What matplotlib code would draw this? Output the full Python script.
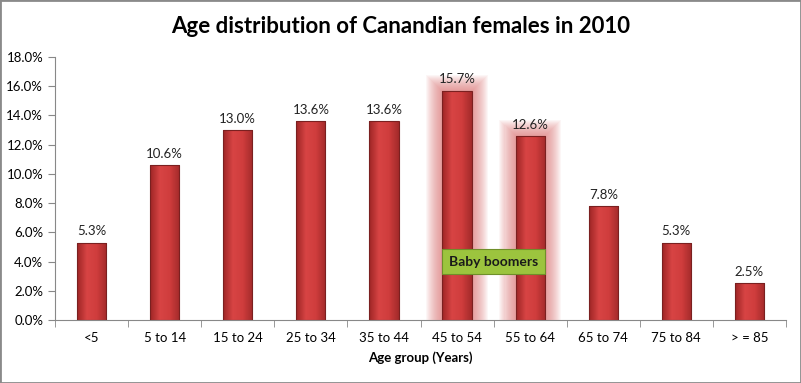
import numpy as np
import matplotlib.pyplot as plt
from matplotlib.patches import Rectangle
from matplotlib.ticker import FuncFormatter, MultipleLocator
from matplotlib.colors import LinearSegmentedColormap

plt.rcParams['font.family'] = ['Lato', 'DejaVu Sans']

groups = ["<5", "5 to 14", "15 to 24", "25 to 34", "35 to 44",
          "45 to 54", "55 to 64", "65 to 74", "75 to 84", "> = 85"]
shares = [5.3, 10.6, 13.0, 13.6, 13.6, 15.7, 12.6, 7.8, 5.3, 2.5]
boomers = ["45 to 54", "55 to 64"]

fig = plt.figure(figsize=(8.01, 3.83), dpi=100)
ax = fig.add_axes([0.0687, 0.1645, 0.9126, 0.6867])

x = np.arange(len(groups))
w = 0.4

red = LinearSegmentedColormap.from_list("bar", ["#9e2626", "#d84444", "#cf3d3d", "#a32a2a"])
grad = np.linspace(0, 1, 64).reshape(1, -1)

# soft glow behind the boomer bars
for i, g in enumerate(groups):
    if g in boomers:
        n = 16
        for k in range(n):
            pad = 0.22 * (1 - k / n)
            ax.add_patch(Rectangle((x[i] - w / 2 - pad, 0), w + 2 * pad,
                                   shares[i] + pad * 5,
                                   facecolor="#dc6a6a", edgecolor="none",
                                   alpha=0.06, zorder=1))

bars = ax.bar(x, shares, width=w, color="none", edgecolor="#7a2020",
              linewidth=0.8, zorder=3)
for b in bars:
    x0, y0 = b.get_x(), b.get_y()
    im = ax.imshow(grad, cmap=red, aspect="auto", zorder=2,
                   extent=(x0, x0 + b.get_width(), y0, y0 + b.get_height()))
    im.set_clip_path(b)

for xi, v in zip(x, shares):
    ax.text(xi, v + 0.35, f"{v:.1f}%", ha="center", va="bottom",
            fontsize=9.5, color="#222222", zorder=4)

# label for the baby boomer generation
mid = (groups.index(boomers[0]) + groups.index(boomers[1])) / 2
ax.text(mid, 4.0, "Baby boomers", ha="center", va="center", fontsize=10,
        fontweight="bold", color="#1a1a1a", zorder=5,
        bbox=dict(boxstyle="square,pad=0.5", facecolor="#9cc43e",
                  edgecolor="#6f8f2a", linewidth=0.8))

ax.set_xlim(-0.5, len(groups) - 0.5)
ax.set_ylim(0, 18)
ax.yaxis.set_major_locator(MultipleLocator(2))
ax.yaxis.set_major_formatter(FuncFormatter(lambda v, p: f"{v:.1f}%"))
ax.set_xticks(x)
ax.set_xticklabels(groups)
ax.set_xticks(np.arange(len(groups) + 1) - 0.5, minor=True)
ax.tick_params(axis="x", which="major", length=0, pad=9, labelsize=9.5)
ax.tick_params(axis="x", which="minor", length=5, color="#888888")
ax.tick_params(axis="y", length=5, color="#888888", labelsize=9.5)

for s in ["top", "right"]:
    ax.spines[s].set_visible(False)
for s in ["left", "bottom"]:
    ax.spines[s].set_color("#888888")

ax.set_xlabel("Age group (Years)", fontsize=9.5, fontweight="bold", labelpad=5)
fig.text(0.5, 0.93, "Age distribution of Canandian females in 2010",
         ha="center", va="center", fontsize=16, fontweight="bold")

fig.patches.append(Rectangle((0, 0), 1, 1, transform=fig.transFigure,
                             fill=False, edgecolor="#8a8a8a", linewidth=2))

fig.savefig("out.png", dpi=100)
